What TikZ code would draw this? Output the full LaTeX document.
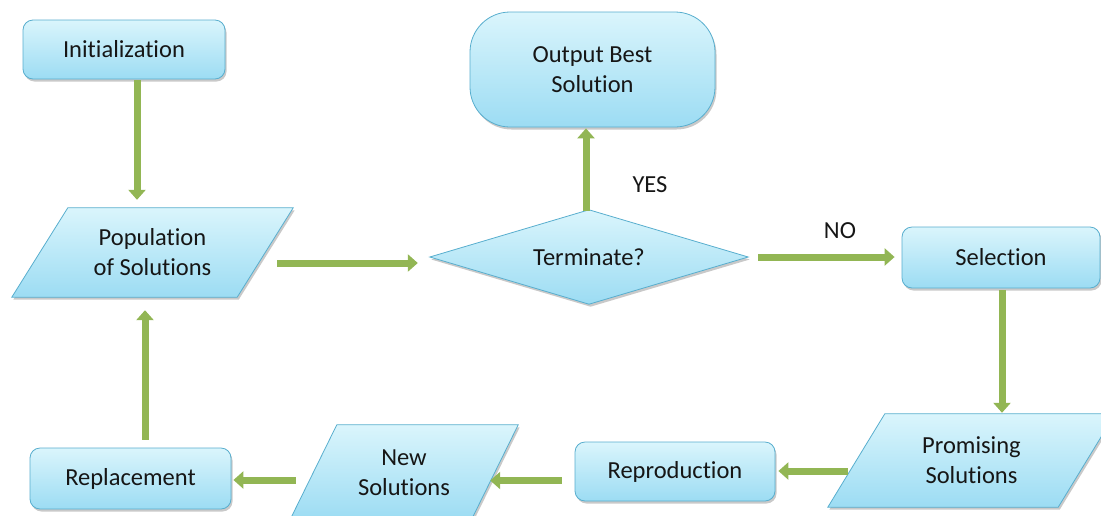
\documentclass[tikz,border=0pt]{standalone}
\usepackage{fontspec}
\setmainfont{Carlito}[Ligatures=NoCommon,RawFeature={-liga;-clig}]
\usetikzlibrary{arrows.meta,shadows,calc,backgrounds}
\definecolor{boxtop}{RGB}{218,245,252}
\definecolor{boxbot}{RGB}{156,220,243}
\definecolor{boxline}{RGB}{88,174,206}
\definecolor{arrgreen}{RGB}{146,182,84}
\definecolor{txt}{RGB}{22,22,22}
\begin{document}
\begin{tikzpicture}[x=1pt,y=-1pt,
  font=\fontsize{24.5}{30}\selectfont, text=txt,
  shad/.style={drop shadow={shadow xshift=1.5pt,shadow yshift=-2.5pt,opacity=0.3,fill=black!70}},
  box/.style={draw=boxline,line width=0.8pt,top color=boxtop,bottom color=boxbot,
    rounded corners=10pt,shad,align=center,inner sep=0pt},
  ghost/.style={inner sep=0pt,align=center},
  shapefill/.style={draw=boxline,line width=0.8pt,top color=boxtop,bottom color=boxbot,shad},
  arr/.style={draw=arrgreen,line width=7pt,-{Triangle[width=17pt,length=10pt]}},
  lbl/.style={inner sep=0pt}]
\useasboundingbox (0,0) rectangle (1101,515);

% nodes
\node[box,minimum width=202pt,minimum height=59pt] (init) at (124,49.5) {Initialization};
\node[box,rounded corners=40pt,minimum width=245pt,minimum height=115pt] (out) at (592.5,69.5) {Output Best\\Solution};
\node[ghost,minimum width=281pt,minimum height=89pt] (pop) at (152.5,252.5) {Population\\of Solutions};
\node[ghost,minimum width=318pt,minimum height=94pt] (term) at (589,257) {\raisebox{-4pt}{Terminate?}};
\node[box,minimum width=198pt,minimum height=61pt] (sel) at (1001,257.5) {Selection};
\node[ghost,minimum width=287pt,minimum height=93pt] (prom) at (971.5,460.5) {Promising\\Solutions};
\node[box,minimum width=200pt,minimum height=59pt] (rep) at (675,471.5) {Reproduction};
\node[ghost,minimum width=228pt,minimum height=95pt] (new) at (404,472.5) {New\\Solutions};
\node[box,minimum width=201pt,minimum height=61pt] (repl) at (130.5,478.5) {Replacement};

\begin{scope}[on background layer]
\path[shapefill] ($(pop.north west)+(56,0)$) -- (pop.north east) -- ($(pop.south east)+(-56,0)$) -- (pop.south west) -- cycle;
\path[shapefill] (term.west) -- (term.north) -- (term.east) -- (term.south) -- cycle;
\path[shapefill] ($(prom.north west)+(57,0)$) -- (prom.north east) -- ($(prom.south east)+(-57,0)$) -- (prom.south west) -- cycle;
\path[shapefill] ($(new.north west)+(47,0)$) -- (new.north east) -- ($(new.south east)+(-47,0)$) -- (new.south west) -- cycle;
\end{scope}

% labels
\node[lbl] (yes) at (650,185) {YES};
\node[lbl] (no) at (840,231) {NO};

% connectors
\coordinate (c1) at ([xshift=13pt,yshift=-1pt]init.south);
\draw[arr,shorten >=8pt] (c1) -- (c1 |- pop.north);
\coordinate (c2) at ([xshift=-16pt,yshift=-10.5pt]pop.east);
\draw[arr,shorten >=12pt] (c2) -- (c2 -| term.west);
\coordinate (c3) at ([xshift=-3pt,yshift=-1pt]term.north);
\draw[arr,shorten >=1pt] (c3) -- (c3 |- out.south);
\coordinate (c4) at ([xshift=10pt]term.east);
\draw[arr,shorten >=7pt] (c4) -- (c4 -| sel.west);
\coordinate (c5) at ([xshift=1pt,yshift=-2pt]sel.south);
\draw[arr,shorten >=1pt] (c5) -- (c5 |- prom.north);
\coordinate (c6) at ([xshift=20pt,yshift=-10.5pt]prom.west);
\draw[arr,shorten >=3pt] (c6) -- (c6 -| rep.east);
\coordinate (c7) at ([xshift=-13pt,yshift=-9pt]rep.west);
\draw[arr,shorten >=-28pt] (c7) -- (c7 -| new.east);
\coordinate (c8) at ([xshift=6pt,yshift=-7.5pt]new.west);
\draw[arr,shorten >=2pt] (c8) -- (c8 -| repl.east);
\coordinate (c9) at ([xshift=14.5pt,yshift=8pt]repl.north);
\draw[arr,shorten >=13pt] (c9) -- (c9 |- pop.south);
\end{tikzpicture}
\end{document}
